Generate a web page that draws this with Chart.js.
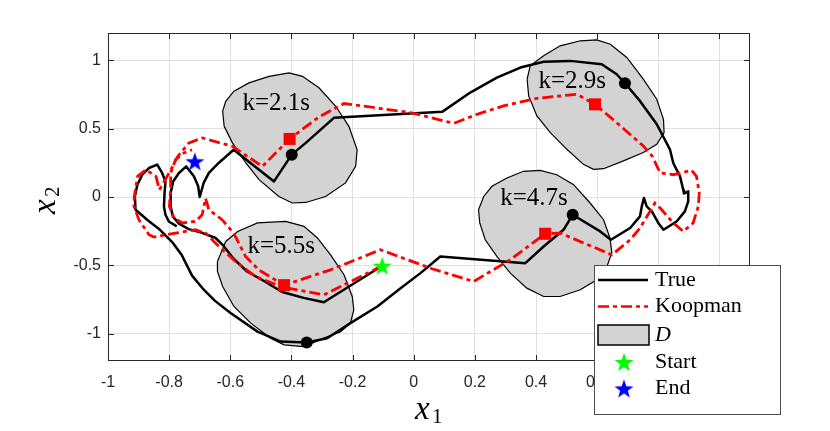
<!DOCTYPE html>
<html>
<head>
<meta charset="utf-8">
<script src="https://cdn.jsdelivr.net/npm/chart.js@4.4.0/dist/chart.umd.min.js"></script>
<style>
  html, body { margin: 0; padding: 0; background: #fff; }
</style>
</head>
<body>
<canvas id="myChart" width="830" height="431"></canvas>
<script>
// trajetória verdadeira (x1, x2)
var trueX = [-0.103,-0.294,-0.360,-0.430,-0.490,-0.545,-0.590,-0.625,-0.648,-0.692,-0.736,-0.768,-0.788,-0.795,-0.795,-0.787,-0.768,-0.744,-0.719,-0.705,-0.700,-0.687,-0.670,-0.638,-0.589,-0.457,-0.399,-0.353,-0.261,0.093,0.185,0.272,0.349,0.425,0.512,0.615,0.664,0.691,0.740,0.795,0.838,0.849,0.871,0.882,0.884,0.898,0.898,0.887,0.860,0.817,0.800,0.779,0.762,0.753,0.746,0.740,0.708,0.645,0.610,0.520,0.490,0.425,0.365,0.087,0.022,-0.043,-0.119,-0.207,-0.283,-0.350,-0.435,-0.511,-0.598,-0.650,-0.690,-0.725,-0.760,-0.790,-0.830,-0.870,-0.910,-0.912,-0.904,-0.888,-0.866,-0.839,-0.823,-0.812,-0.815,-0.817,-0.812,-0.801,-0.775];
var trueY = [-0.503,-0.770,-0.738,-0.695,-0.615,-0.545,-0.450,-0.350,-0.300,-0.262,-0.235,-0.195,-0.142,-0.069,0.029,0.114,0.176,0.224,0.151,0.078,0.000,0.103,0.176,0.249,0.346,0.114,0.310,0.396,0.579,0.623,0.764,0.874,0.947,0.989,0.996,0.971,0.898,0.832,0.703,0.532,0.349,0.249,0.151,0.050,0.025,0.041,-0.032,-0.105,-0.179,-0.240,-0.190,-0.105,-0.069,-0.007,-0.069,-0.142,-0.227,-0.313,-0.252,-0.130,-0.240,-0.362,-0.484,-0.435,-0.557,-0.667,-0.801,-0.923,-1.033,-1.065,-1.058,-0.985,-0.850,-0.760,-0.670,-0.575,-0.420,-0.330,-0.240,-0.170,-0.093,0.004,0.090,0.163,0.212,0.237,0.176,0.114,0.029,-0.069,-0.130,-0.179,-0.215];

// previsão Koopman
var koopX = [-0.103,-0.294,-0.381,-0.430,-0.518,-0.583,-0.638,-0.681,-0.714,-0.779,-0.850,-0.866,-0.899,-0.915,-0.914,-0.903,-0.876,-0.843,-0.832,-0.812,-0.794,-0.772,-0.735,-0.691,-0.593,-0.495,-0.406,-0.310,-0.228,-0.011,0.131,0.207,0.294,0.403,0.534,0.593,0.664,0.751,0.780,0.806,0.849,0.909,0.925,0.934,0.931,0.914,0.882,0.849,0.806,0.789,0.773,0.740,0.708,0.648,0.479,0.430,0.316,0.196,0.060,-0.109,-0.272,-0.424,-0.507,-0.550,-0.589,-0.627,-0.670,-0.681,-0.692,-0.714,-0.757,-0.784,-0.799,-0.795,-0.795,-0.779,-0.752,-0.725];
var koopY = [-0.503,-0.716,-0.679,-0.658,-0.581,-0.472,-0.360,-0.264,-0.240,-0.264,-0.293,-0.276,-0.166,-0.069,0.004,0.151,0.200,0.151,0.053,0.130,0.200,0.297,0.396,0.432,0.371,0.224,0.425,0.586,0.684,0.618,0.539,0.605,0.667,0.722,0.752,0.678,0.544,0.373,0.300,0.176,0.163,0.195,0.151,0.029,-0.069,-0.190,-0.252,-0.190,-0.081,-0.044,-0.105,-0.227,-0.313,-0.423,-0.264,-0.269,-0.459,-0.618,-0.525,-0.386,-0.533,-0.645,-0.533,-0.435,-0.264,-0.166,-0.093,-0.010,-0.130,-0.179,-0.190,-0.154,-0.069,0.078,0.176,0.273,0.322,0.346];

// regiões D
var reg21X = [-0.625,-0.615,-0.588,-0.539,-0.473,-0.408,-0.364,-0.310,-0.255,-0.212,-0.185,-0.190,-0.223,-0.288,-0.353,-0.397,-0.441,-0.506,-0.549,-0.593,-0.620];
var reg21Y = [0.627,0.700,0.774,0.835,0.883,0.908,0.883,0.799,0.664,0.517,0.346,0.224,0.103,0.004,-0.040,-0.044,0.004,0.127,0.249,0.396,0.517];
var reg29X = [0.371,0.381,0.425,0.479,0.545,0.599,0.643,0.697,0.751,0.795,0.817,0.819,0.795,0.751,0.686,0.621,0.588,0.555,0.501,0.447,0.403,0.376];
var reg29Y = [0.862,0.960,1.033,1.106,1.143,1.150,1.118,1.021,0.862,0.715,0.568,0.471,0.385,0.325,0.264,0.207,0.202,0.239,0.349,0.471,0.593,0.740];
var reg47X = [0.212,0.229,0.256,0.305,0.359,0.414,0.468,0.523,0.577,0.621,0.642,0.648,0.632,0.599,0.545,0.479,0.425,0.370,0.316,0.272,0.234,0.216];
var reg47Y = [-0.093,0.004,0.078,0.139,0.188,0.195,0.163,0.090,-0.044,-0.166,-0.300,-0.410,-0.508,-0.606,-0.679,-0.728,-0.728,-0.667,-0.557,-0.435,-0.313,-0.190];
var reg55X = [-0.642,-0.615,-0.576,-0.511,-0.419,-0.359,-0.315,-0.272,-0.228,-0.201,-0.196,-0.207,-0.239,-0.294,-0.359,-0.424,-0.468,-0.533,-0.588,-0.625,-0.642];
var reg55Y = [-0.472,-0.325,-0.252,-0.190,-0.179,-0.215,-0.300,-0.423,-0.569,-0.728,-0.826,-0.923,-0.985,-1.033,-1.095,-1.082,-1.033,-0.923,-0.801,-0.655,-0.545];

// marcadores nos instantes k
var trueMarkX = [-0.399, 0.691, 0.520, -0.350];
var trueMarkY = [0.310, 0.832, -0.130, -1.065];
var koopMarkX = [-0.406, 0.593, 0.430, -0.424];
var koopMarkY = [0.425, 0.678, -0.269, -0.645];
var startX = [-0.103], startY = [-0.503];
var endX = [-0.716], endY = [0.261];

// textos
var labelText = ['k=2.1s', 'k=2.9s', 'k=4.7s', 'k=5.5s'];
var labelX = [-0.560, 0.408, 0.283, -0.544];
var labelY = [0.640, 0.801, -0.056, -0.410];
var legendNames = ['True', 'Koopman', 'D', 'Start', 'End'];

var xTicks = [-1, -0.8, -0.6, -0.4, -0.2, 0, 0.2, 0.4, 0.6, 0.8, 1];
var yTicks = [-1, -0.5, 0, 0.5, 1];

var ctx = document.getElementById('myChart').getContext('2d');

function pts(xs, ys) {
  return xs.map(function (v, i) { return { x: v, y: ys[i] }; });
}
function closed(xs, ys) {
  var p = pts(xs, ys);
  p.push({ x: xs[0], y: ys[0] });
  return p;
}

// estrela preenchida de 5 pontas como pointStyle
function starImg(color) {
  var R = 10, r = R * 0.4, s = 2 * R + 2;
  var c = document.createElement('canvas');
  c.width = s; c.height = s;
  var g = c.getContext('2d');
  g.beginPath();
  for (var i = 0; i < 10; i++) {
    var a = -Math.PI / 2 + i * Math.PI / 5;
    var rr = (i % 2 === 0) ? R : r;
    g.lineTo(s / 2 + rr * Math.cos(a), s / 2 + 1 + rr * Math.sin(a));
  }
  g.closePath();
  g.fillStyle = color;
  g.fill();
  return c;
}
var greenStar = starImg('#00ff00');
var blueStar = starImg('#0000ff');

var regionStyle = {
  showLine: true, pointRadius: 0, borderColor: '#000', borderWidth: 1.2,
  backgroundColor: '#d3d3d3', fill: 'shape', tension: 0, order: 3
};

var overlay = {
  id: 'overlay',
  afterDraw: function (chart) {
    var c = chart.ctx, a = chart.chartArea, sx = chart.scales.x, sy = chart.scales.y;
    c.save();

    // textos k=
    c.fillStyle = '#000';
    c.font = '25px "Liberation Serif", serif';
    c.textAlign = 'left';
    c.textBaseline = 'alphabetic';
    labelText.forEach(function (t, i) {
      c.fillText(t, sx.getPixelForValue(labelX[i]), sy.getPixelForValue(labelY[i]));
    });

    // moldura e ticks internos
    c.strokeStyle = '#262626';
    c.lineWidth = 1;
    c.strokeRect(a.left + 0.5, a.top + 0.5, a.right - a.left - 1, a.bottom - a.top - 1);
    c.beginPath();
    xTicks.forEach(function (v) {
      var px = Math.round(sx.getPixelForValue(v)) + 0.5;
      c.moveTo(px, a.bottom); c.lineTo(px, a.bottom - 6);
      c.moveTo(px, a.top); c.lineTo(px, a.top + 6);
    });
    yTicks.forEach(function (v) {
      var py = Math.round(sy.getPixelForValue(v)) + 0.5;
      c.moveTo(a.left, py); c.lineTo(a.left + 6, py);
      c.moveTo(a.right, py); c.lineTo(a.right - 6, py);
    });
    c.stroke();

    // títulos dos eixos
    c.fillStyle = '#000';
    c.font = 'italic 33px "Liberation Serif", serif';
    c.fillText('x', 415, 419);
    c.font = '21px "Liberation Serif", serif';
    c.fillText('1', 432, 423);
    c.save();
    c.translate(55, 214);
    c.rotate(-Math.PI / 2);
    c.font = 'italic 33px "Liberation Serif", serif';
    c.fillText('x', 0, 0);
    c.font = '21px "Liberation Serif", serif';
    c.fillText('2', 17, 4);
    c.restore();

    // legenda
    var L = { x: 594, y: 265, w: 186, h: 149 };
    c.fillStyle = '#fff';
    c.fillRect(L.x, L.y, L.w, L.h);
    c.strokeStyle = '#4d4d4d';
    c.strokeRect(L.x + 0.5, L.y + 0.5, L.w, L.h);
    var rows = [280, 306.5, 335, 362, 388.5];
    c.lineWidth = 2.5;
    c.strokeStyle = '#000';
    c.beginPath(); c.moveTo(598, rows[0]); c.lineTo(648, rows[0]); c.stroke();
    c.strokeStyle = '#ff0000';
    c.setLineDash([11, 4, 4, 4]);
    c.beginPath(); c.moveTo(598, rows[1]); c.lineTo(648, rows[1]); c.stroke();
    c.setLineDash([]);
    c.fillStyle = '#d3d3d3';
    c.fillRect(598, 325, 51, 20);
    c.lineWidth = 1.5;
    c.strokeStyle = '#000';
    c.strokeRect(598, 325, 51, 20);
    c.drawImage(greenStar, 624 - greenStar.width / 2, rows[3] - greenStar.height / 2);
    c.drawImage(blueStar, 624 - blueStar.width / 2, rows[4] - blueStar.height / 2);
    c.fillStyle = '#000';
    c.textBaseline = 'middle';
    legendNames.forEach(function (t, i) {
      c.font = (i === 2 ? 'italic ' : '') + '22px "Liberation Serif", serif';
      c.fillText(t, 655, rows[i]);
    });

    c.restore();
  }
};

var chart = new Chart(ctx, {
  type: 'scatter',
  data: {
    datasets: [
      Object.assign({ label: 'D1', data: closed(reg21X, reg21Y) }, regionStyle),
      Object.assign({ label: 'D2', data: closed(reg29X, reg29Y) }, regionStyle),
      Object.assign({ label: 'D3', data: closed(reg47X, reg47Y) }, regionStyle),
      Object.assign({ label: 'D4', data: closed(reg55X, reg55Y) }, regionStyle),
      {
        label: 'True', data: pts(trueX, trueY), showLine: true, pointRadius: 0,
        borderColor: '#000', borderWidth: 2.5, borderJoinStyle: 'round', tension: 0, order: 2
      },
      {
        label: 'Koopman', data: pts(koopX, koopY), showLine: true, pointRadius: 0,
        borderColor: '#ff0000', borderWidth: 2.8, borderDash: [11, 4, 4, 4], tension: 0, order: 1
      },
      {
        label: 'True k', data: pts(trueMarkX, trueMarkY), pointStyle: 'circle', pointRadius: 6,
        backgroundColor: '#000', borderColor: '#000', borderWidth: 0, order: 0
      },
      {
        label: 'Koopman k', data: pts(koopMarkX, koopMarkY), pointStyle: 'rect', pointRadius: 8.5,
        backgroundColor: '#ff0000', borderColor: '#ff0000', borderWidth: 0, order: 0
      },
      { label: 'Start', data: pts(startX, startY), pointStyle: greenStar, order: 0 },
      { label: 'End', data: pts(endX, endY), pointStyle: blueStar, order: 0 }
    ]
  },
  options: {
    responsive: false,
    animation: false,
    layout: { padding: { top: 33, right: 80, bottom: 0, left: 0 } },
    plugins: { legend: { display: false }, tooltip: { enabled: false } },
    scales: {
      x: {
        type: 'linear', min: -1, max: 1.1,
        afterFit: function (s) { s.height = 70; },
        afterBuildTicks: function (s) { s.ticks = xTicks.map(function (v) { return { value: v }; }); },
        grid: { color: '#e0e0e0', drawTicks: false },
        border: { display: false },
        ticks: {
          autoSkip: false, maxRotation: 0, padding: 12, color: '#262626',
          font: { family: '"Liberation Sans", Arial, sans-serif', size: 16 },
          callback: function (v) { return String(v); }
        }
      },
      y: {
        type: 'linear', min: -1.2, max: 1.2,
        afterFit: function (s) { s.width = 108; },
        afterBuildTicks: function (s) { s.ticks = yTicks.map(function (v) { return { value: v }; }); },
        grid: { color: '#e0e0e0', drawTicks: false },
        border: { display: false },
        ticks: {
          autoSkip: false, padding: 7, color: '#262626',
          font: { family: '"Liberation Sans", Arial, sans-serif', size: 16 },
          callback: function (v) { return String(v); }
        }
      }
    }
  },
  plugins: [overlay]
});
</script>
</body>
</html>
